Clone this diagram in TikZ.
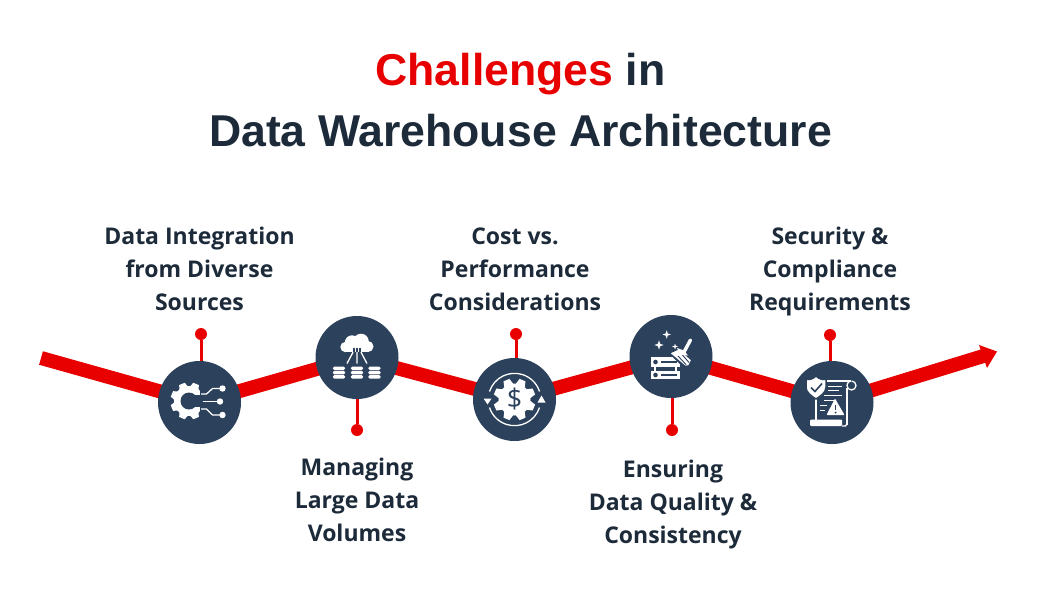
\documentclass[tikz,border=0pt]{standalone}
\usepackage{fontspec}
\setmainfont{Open Sans}
\newfontfamily\ttlfont{Liberation Sans}[BoldFont={Liberation Sans Bold}]
\usetikzlibrary{backgrounds}
\definecolor{navy}{HTML}{2C415C}
\definecolor{rd}{HTML}{E80000}
\definecolor{ink}{HTML}{1C2A39}
\tikzset{
  hub/.style={circle,fill=navy,minimum size=83pt,inner sep=0pt},
  pin/.style={circle,fill=rd,minimum size=12pt,inner sep=0pt},
  stem/.style={draw=rd,line width=3pt},
  route/.style={draw=rd,line width=14pt,line join=miter},
  lab/.style={font=\fontsize{23pt}{33pt}\selectfont\bfseries,text=ink,align=center,inner sep=0pt},
  ttl/.style={font=\fontsize{44.6pt}{45pt}\selectfont\ttlfont\bfseries,text=ink,align=center,inner sep=0pt},
  ic/.style={draw=white,line width=1.3pt},
}
\newcommand{\mygear}[3]{% radius body, radius tip, teeth
  \fill[white] (0,0) circle (#1);
  \pgfmathsetmacro{\stepa}{360/#3}
  \foreach \k in {1,...,#3}{
    \fill[white,rotate=\k*\stepa+\stepa/2] (#1-1,-#1*0.3) -- (#2,-#1*0.2) -- (#2,#1*0.2) -- (#1-1,#1*0.3) -- cycle;
  }
}
\newcommand{\mystar}[3]{\fill[white] (#1-#3,#2) -- (#1-#3*.25,#2-#3*.25) -- (#1,#2-#3) -- (#1+#3*.25,#2-#3*.25) -- (#1+#3,#2) -- (#1+#3*.25,#2+#3*.25) -- (#1,#2+#3) -- (#1-#3*.25,#2+#3*.25) -- cycle;}
\newcommand{\mydb}[1]{\foreach \y in {9,13.3,17.6}{\fill[white,rounded corners=1.5pt] (#1-6.2,\y) rectangle (#1+6.2,\y+3.5);}}
\begin{document}
\begin{tikzpicture}[x=1pt,y=-1pt]
\useasboundingbox (0,0) rectangle (1041,600);
\node[ttl] (t1) at (520.5,74) {\textcolor{rd}{Challenges} in};
\node[ttl] (t2) at (520.5,131) {Data Warehouse Architecture};
\node[hub] (c1) at (199.5,402.5) {};
\node[hub] (c2) at (357,357.5) {};
\node[hub] (c3) at (514.5,399.5) {};
\node[hub] (c4) at (671,356.5) {};
\node[hub] (c5) at (832,402.5) {};
\coordinate (s) at (41,358);
\coordinate (e) at (985,355.5);
\node[pin] (p1) at (201,334) {};
\node[pin] (p2) at (357,430) {};
\node[pin] (p3) at (516,334) {};
\node[pin] (p4) at (672,430) {};
\node[pin] (p5) at (830,335) {};
\begin{scope}[on background layer]
\draw[route] (s) -- (c1.center) -- (c2.center) -- (c3.center) -- (c4.center) -- (c5.center) -- (e);
\fill[rd] (997,351.5) -- (979,345) -- (987,368) -- cycle;
\draw[stem] (p1) -- (p1|-c1.center);
\draw[stem] (p2) -- (p2|-c2.center);
\draw[stem] (p3) -- (p3|-c3.center);
\draw[stem] (p4) -- (p4|-c4.center);
\draw[stem] (p5) -- (p5|-c5.center);
\end{scope}
\node[lab] (l1) at (199.5,269) {Data Integration\\from Diverse\\Sources};
\node[lab] (l2) at (357,500) {Managing\\Large Data\\Volumes};
\node[lab] (l3) at (515,269) {Cost vs.\\Performance\\Considerations};
\node[lab] (l4) at (673,504.5) {Ensuring\\Data Quality \&\\Consistency};
\node[lab] (l5) at (830,271.5) {Security \&\\Compliance\\Requirements};
% icon 1
\begin{scope}[shift={(c1.center)}]
 \begin{scope}[shift={(-10.5,-1.5)}]
  \mygear{15}{18.5}{8}
  \fill[navy] (0,0) circle (8.5);
  \fill[navy] (0,-6) rectangle (22,6);
  \fill[navy] (11,-22) rectangle (22,22);
 \end{scope}
 \draw[ic] (1.5,-8.5) -- (7,-8.5) -- (13,-14) -- (23,-14);
 \fill[white] (23,-14) circle (3.2);
 \draw[ic] (3,-1) -- (21,-1);
 \fill[white] (20.5,-1) circle (3.2);
 \draw[ic] (1.5,6.5) -- (7,6.5) -- (13,12.5) -- (23,12.5);
 \fill[white] (23,12.5) circle (3.2);
\end{scope}
% icon 2
\begin{scope}[shift={(c2.center)}]
 \fill[white] (-11.5,-10.5) circle (5.2);
 \fill[white] (-5,-15) circle (7.2);
 \fill[white] (4,-16) circle (7.8);
 \fill[white] (11,-11) circle (5.5);
 \fill[white] (-12,-12) rectangle (12,-5.3);
 \draw[ic,navy] (-3,-10) -- (-3,-5.3) (0,-10) -- (0,-5.3) (3,-10) -- (3,-5.3);
 \draw[ic] (-4,-5.3) -- (-10,6) (0,-5.3) -- (0,6) (4,-5.3) -- (10,6);
 \mydb{-18}\mydb{0}\mydb{17.5}
\end{scope}
% icon 3
\begin{scope}[shift={(c3.center)}]
 \mygear{16}{21}{8}
 \node[text=navy,inner sep=0pt,font=\fontsize{27pt}{27pt}\selectfont] (d3) at (0,0) {\$};
 \draw[ic] (-25,-8) arc[start angle=-162,end angle=-18,radius=26.3];
 \draw[ic] (25,8) arc[start angle=18,end angle=162,radius=26.3];
 \fill[white] (-31,-1) -- (-23,-1) -- (-27,5) -- cycle;
 \fill[white] (23,3) -- (31,3) -- (27,-4) -- cycle;
\end{scope}
% icon 4
\begin{scope}[shift={(c4.center)}]
 \fill[white] (-20,.5) rectangle (9,10.5);
 \fill[white] (-20,14.5) rectangle (9,22.5);
 \draw[ic] (-16,10) -- (-16,15) (5,10) -- (5,15);
 \fill[navy] (-15.5,5.5) circle (2.3) (-15.5,18.5) circle (2.3);
 \draw[navy,line width=1.1pt] (-10,5.5) -- (6,5.5) (-10,18.5) -- (6,18.5);
 \draw[draw=navy,line width=1.6pt,fill=white] (-2,-3.5) -- (8,-8) -- (21,3.5) -- (18,9.5) -- (14,10) -- cycle;
 \draw[navy,line width=.9pt] (3,1) -- (11,9) (7,-.5) -- (15,8) (11,-2) -- (18,6);
 \draw[white,line width=3.4pt,line cap=round] (19.5,-16.5) -- (13,-4.5);
 \fill[white] (6,-8.5) -- (13,-6) -- (17,-1) -- (9,-2) -- cycle;
 \mystar{-4.3}{-22}{4.2}\mystar{-12}{-11.5}{4.6}\mystar{4}{-10}{3}
\end{scope}
% icon 5
\begin{scope}[shift={(c5.center)}]
 \draw[ic] (-10,-21.5) -- (19,-21.5);
 \draw[ic] (15,-15) -- (15,22) ;
 \draw[ic] (-16,-4) -- (-16,17);
 \draw[ic] (19.5,-21.5) arc[start angle=-90,end angle=240,radius=4.5];
 \fill[white,rounded corners=1pt] (-22,17) rectangle (10,23.5);
 \draw[ic] (10,23.5) .. controls (13,23.5) and (15,24) .. (15,21);
 \draw[ic,line width=.9pt] (-4,-16.5) -- (10,-16.5) (-4,-12) -- (7,-12) (-8,-7) -- (10,-7) (-8,-2) -- (2,-2);
 \draw[ic,line width=.9pt] (-12,3) -- (-5,3) (-12,8) -- (-7,8) ;
 \fill[white,rounded corners=.8pt] (3,-4) -- (-5.5,12.5) -- (12.5,12.5) -- cycle;
 \draw[navy,line width=1.5pt] (3.5,2) -- (3.5,7.5);
 \fill[navy] (3.5,10) circle (1);
 \draw[draw=navy,line width=1.5pt,fill=white] (-16,-26.5) .. controls (-20,-23) and (-22,-23) .. (-26,-23) -- (-26,-15) .. controls (-26,-10) and (-20,-6) .. (-16,-3.5) .. controls (-12,-6) and (-6,-10) .. (-6,-15) -- (-6,-23) .. controls (-10,-23) and (-12,-23) .. (-16,-26.5) -- cycle;
 \draw[navy,line width=1.6pt] (-21,-15) -- (-17,-11) -- (-10,-19);
\end{scope}
\end{tikzpicture}
\end{document}
